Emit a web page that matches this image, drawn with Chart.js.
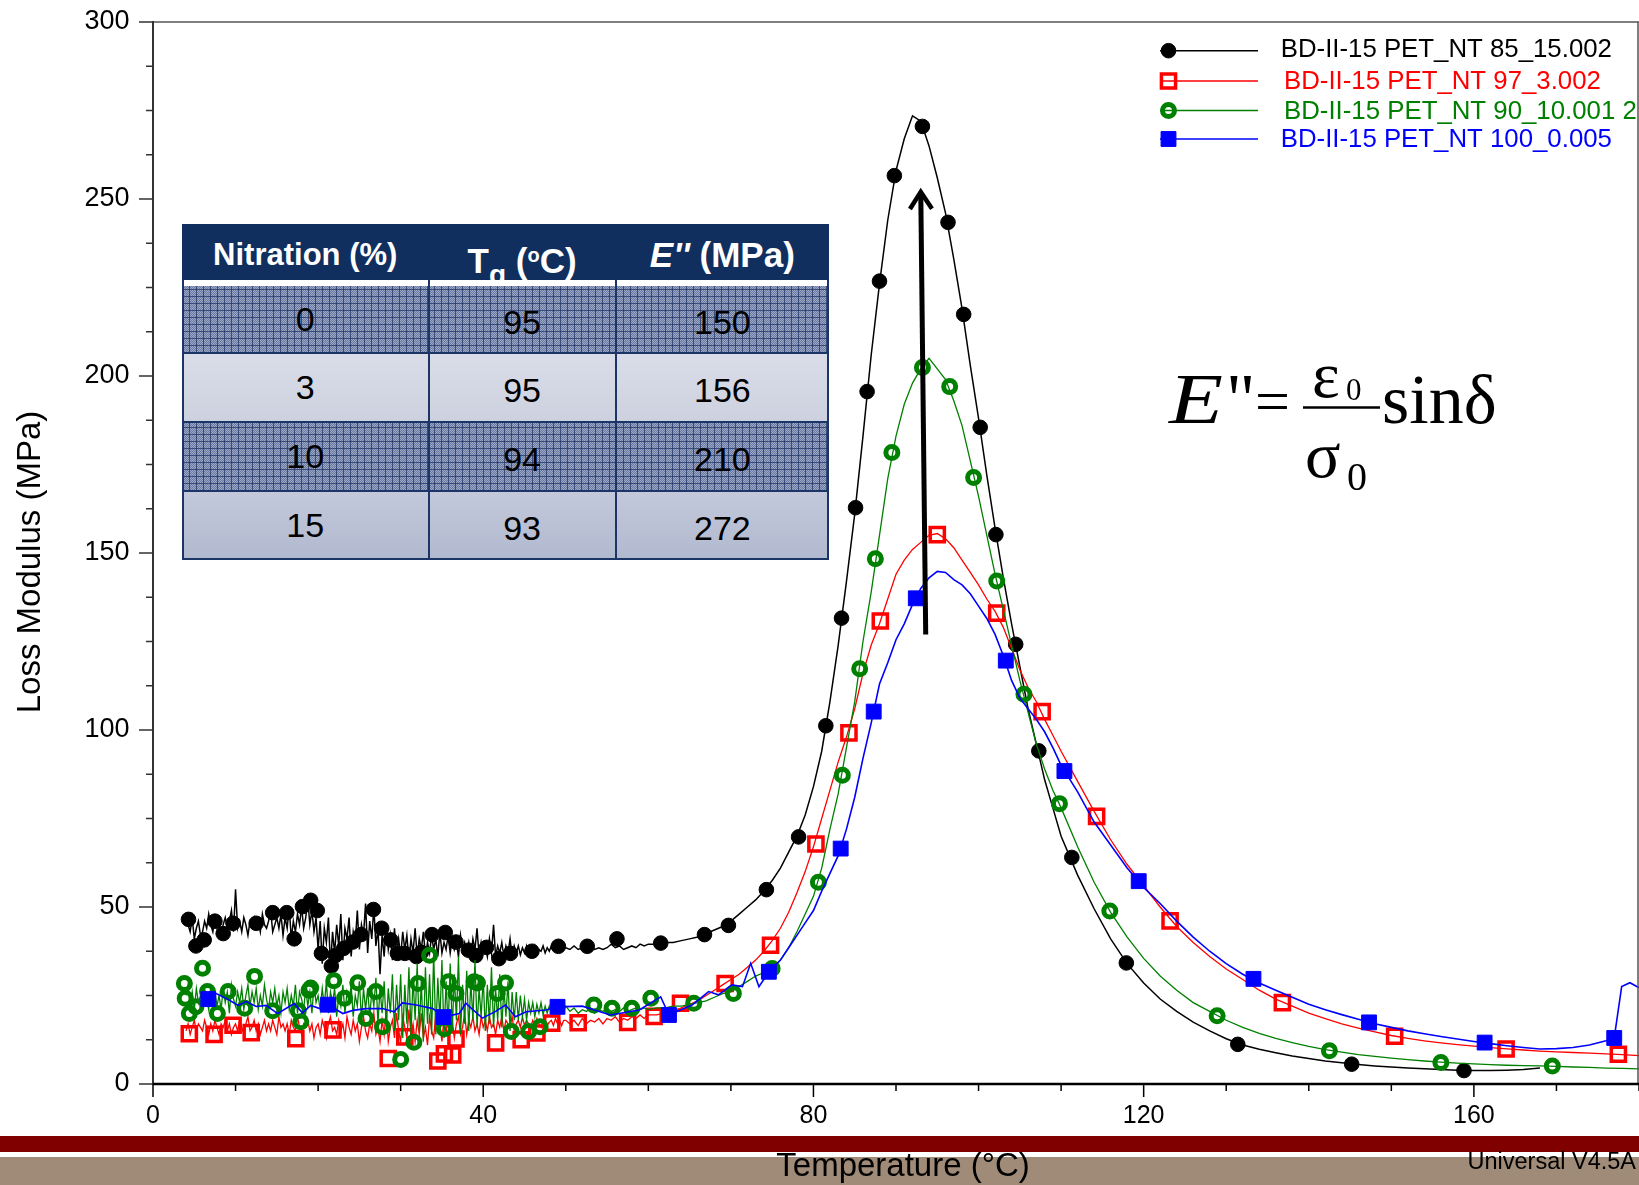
<!DOCTYPE html>
<html>
<head>
<meta charset="utf-8">
<title>Loss Modulus vs Temperature</title>
<script src="https://cdn.jsdelivr.net/npm/chart.js@4.4.1/dist/chart.umd.min.js"></script>
<style>
  html, body { margin: 0; padding: 0; background: #ffffff; }
  #page { position: relative; width: 1639px; height: 1185px; overflow: hidden; background: #ffffff;
          font-family: "Liberation Sans", Arial, sans-serif; }
  .band { position: absolute; left: 0; width: 1639px; }
  #bandRed { top: 1136px; height: 16px; background: #800000; }
  #bandTan { top: 1157px; height: 28px; background: #9f8b77; }
  #chart { position: absolute; left: 0; top: 0; width: 1639px; height: 1185px; }
  #summary { position: absolute; left: 182px; top: 224px; width: 647px; height: 336px; background: #ffffff; }
  #summary .head { position: absolute; left: 0; top: 0; width: 647px; height: 56px; background: #102f5f; overflow: hidden; }
  .hcell { position: absolute; top: 3px; height: 56px; line-height: 56px; text-align: center; color: #ffffff;
           font-weight: bold; font-size: 31px; white-space: nowrap; }
  .hcell.wide { font-size: 35px; }
  .hcell .sub { font-size: 28px; vertical-align: -11px; }
  .hcell .sup { font-size: 20px; vertical-align: 11px; }
  .brow { position: absolute; left: 0; width: 647px; overflow: hidden; }
  .pattern { background-color: #9ba7c3;
    background-image:
      repeating-linear-gradient(0deg, rgba(28,48,98,0.70) 0 1px, transparent 1px 7px),
      repeating-linear-gradient(90deg, rgba(28,48,98,0.70) 0 1px, transparent 1px 7px),
      repeating-conic-gradient(rgba(45,65,120,0.45) 0 25%, transparent 0 50%);
    background-size: auto, auto, 2px 2px; }
  .light2 { background: linear-gradient(#dadde8, #cdd1df); }
  .light4 { background: linear-gradient(#c3c9db, #b1b9cf); }
  .bcell { position: absolute; text-align: center; color: #000000; font-size: 34px; white-space: nowrap; }
  .vline { position: absolute; width: 2px; background: #1a3566; }
  .hline { position: absolute; left: 0; width: 647px; height: 2px; background: #1a3566; }
  #overlay { position: absolute; left: 0; top: 0; }
</style>
</head>
<body>
<div id="page">
  <div id="bandRed" class="band"></div>
  <div id="bandTan" class="band"></div>
  <canvas id="chart" width="1639" height="1185"></canvas>
  <div id="summary"></div>
  <svg id="overlay" width="1639" height="1185" viewBox="0 0 1639 1185">
    <g font-family="'Liberation Serif','Times New Roman',serif" fill="#000000">
      <text x="1169" y="423" font-size="72" font-style="italic" textLength="54" lengthAdjust="spacingAndGlyphs">E</text>
      <text x="1226" y="423" font-size="72">"</text>
      <text x="1255" y="421.5" font-size="62">=</text>
      <text x="1312" y="397" font-size="66">ε</text>
      <text x="1346" y="400" font-size="31">0</text>
      <line x1="1303" y1="407.5" x2="1380" y2="407.5" stroke="#000000" stroke-width="2.7"/>
      <text x="1305" y="476.5" font-size="66">σ</text>
      <text x="1347" y="490" font-size="40">0</text>
      <text x="1382" y="423.3" font-size="70">sinδ</text>
    </g>
    <text x="1636" y="1168.5" font-family="'Liberation Sans',Arial,sans-serif" font-size="23.5" text-anchor="end" fill="#000000">Universal V4.5A</text>
  </svg>
</div>

<script>
// ---------------- data ----------------
// Shared temperature grid (°C) for the three densely sampled traces
const tempGrid = [
  4, 4.25, 4.5, 4.75, 5, 5.25, 5.5, 5.75,
  6, 6.25, 6.5, 6.75, 7, 7.25, 7.5, 7.75,
  8, 8.25, 8.5, 8.75, 9, 9.25, 9.5, 9.75,
  10, 10.25, 10.5, 10.75, 11, 11.25, 11.5, 11.75,
  12, 12.25, 12.5, 12.75, 13, 13.25, 13.5, 13.75,
  14, 14.25, 14.5, 14.75, 15, 15.25, 15.5, 15.75,
  16, 16.25, 16.5, 16.75, 17, 17.25, 17.5, 17.75,
  18, 18.25, 18.5, 18.75, 19, 19.25, 19.5, 19.75,
  20, 20.25, 20.5, 20.75, 21, 21.25, 21.5, 21.75,
  22, 22.25, 22.5, 22.75, 23, 23.25, 23.5, 23.75,
  24, 24.25, 24.5, 24.75, 25, 25.25, 25.5, 25.75,
  26, 26.25, 26.5, 26.75, 27, 27.25, 27.5, 27.75,
  28, 28.25, 28.5, 28.75, 29, 29.25, 29.5, 29.75,
  30, 30.25, 30.5, 30.75, 31, 31.25, 31.5, 31.75,
  32, 32.25, 32.5, 32.75, 33, 33.25, 33.5, 33.75,
  34, 34.25, 34.5, 34.75, 35, 35.25, 35.5, 35.75,
  36, 36.25, 36.5, 36.75, 37, 37.25, 37.5, 37.75,
  38, 38.25, 38.5, 38.75, 39, 39.25, 39.5, 39.75,
  40, 40.25, 40.5, 40.75, 41, 41.25, 41.5, 41.75,
  42, 42.25, 42.5, 42.75, 43, 43.25, 43.5, 43.75,
  44, 44.25, 44.5, 44.75, 45, 45.25, 45.5, 45.75,
  46, 46.25, 46.5, 46.75, 47, 47.25, 47.5, 47.75,
  48, 48.25, 48.5, 48.75, 49, 49.25, 49.5, 49.75,
  50, 50.5, 51, 51.5, 52, 52.5, 53, 53.5, 54, 54.5,
  55, 55.5, 56, 56.5, 57, 57.5, 58, 58.5, 59, 59.5,
  60, 61, 62, 63, 64, 65, 66, 67, 68, 69,
  70, 71, 72, 73, 74, 75, 76, 77, 78, 79,
  80, 81, 82, 83, 84, 85, 86, 87, 88, 89,
  90, 91, 92, 93, 94, 95, 96, 97, 98, 99,
  100, 101, 102, 103, 104, 105, 106, 107, 108, 109,
  110, 112, 114, 116, 118, 120, 122, 124, 126, 128,
  130, 132, 134, 136, 138, 140, 142, 144, 146, 148,
  150, 152, 154, 156, 158, 160, 162, 164, 166, 168,
  170, 172, 174, 176, 178, 180
];

// Loss modulus (MPa), 15 % nitration
const lossBlack = [
  46, 45, 43, 47, 41, 44, 46, 42,
  43, 46, 44, 48, 45, 43, 47, 44,
  46, 42, 45, 47, 44, 46, 49, 43,
  55, 44, 46, 43, 47, 45, 42, 46,
  45, 47, 44, 46, 43, 48, 45, 44,
  46, 49, 43, 45, 47, 44, 48, 42,
  47, 44, 50, 41, 46, 43, 48, 45,
  50, 44, 47, 52, 45, 49, 43, 47,
  38, 46, 34, 44, 40, 47, 33, 43,
  37, 45, 39, 48, 35, 44, 41, 47,
  36, 43, 40, 49, 38, 45, 42, 51,
  37, 46, 41, 50, 39, 44, 31, 42,
  36, 45, 38, 42, 35, 44, 37, 41,
  36, 43, 38, 42, 35, 41, 37, 44,
  36, 41, 38, 43, 36, 40, 37, 42,
  38, 41, 36, 43, 37, 40, 38, 42,
  37, 41, 38, 40, 36, 42, 38, 40,
  37, 40, 36, 41, 38, 44, 36, 40,
  37, 39, 36, 41, 37, 45, 36, 39,
  37, 40, 36, 39, 37, 41, 36, 39,
  37, 39, 36.5, 38.5, 37, 39, 36.5, 38.5,
  37, 39, 36.5, 38, 37.5, 39, 37, 38.5,
  37.5, 39, 38, 38.5, 37.5, 39, 38, 38.5,
  38.5, 38, 39, 38, 38.5, 38, 39, 38, 38.5, 38,
  38.5, 39.5, 38.5, 39, 38, 38.5, 39, 38.5, 39.5, 39,
  39.5, 39.5, 40, 40, 40.5, 41, 41.5, 42.5, 43.5, 44.5,
  46, 48, 50, 52, 54.5, 57.5, 61, 65.5, 70, 76,
  84, 94, 108, 124, 142, 161, 183, 206, 226, 244,
  258, 267, 273.5, 272, 265, 256, 246, 233, 219, 203,
  188, 172, 157, 143, 130, 118, 106, 96, 86, 78,
  70, 59, 49.5, 41, 34, 28.5, 24, 20.5, 17.5, 15,
  12.8, 11, 9.8, 8.8, 7.9, 7.2, 6.5, 6, 5.5, 5.1,
  4.8, 4.5, 4.3, 4.1, 3.9, 3.8, 3.8, 3.9, 4.1, 4.5,
  null, null, null, null, null, null
];

// Loss modulus (MPa), 3 % nitration
const lossRed = [
  15, 17, 14, 16, 18, 15, 17, 16,
  15, 18, 16, 14, 17, 15, 18, 16,
  14, 17, 16, 18, 15, 17, 14, 16,
  17, 15, 18, 16, 14, 17, 19, 15,
  16, 18, 15, 17, 14, 16, 18, 15,
  17, 15, 18, 16, 14, 19, 16, 17,
  15, 17, 14, 18, 16, 15, 19, 16,
  14, 17, 16, 18, 15, 17, 13, 16,
  17, 14, 18, 16, 13, 17, 19, 15,
  16, 14, 18, 15, 17, 13, 19, 16,
  14, 18, 15, 17, 12, 16, 19, 15,
  13, 17, 15, 20, 14, 16, 12, 18,
  14, 21, 12, 16, 18, 13, 20, 15,
  12, 19, 16, 13, 21, 14, 17, 12,
  18, 14, 20, 13, 16, 11, 19, 15,
  13, 20, 15, 17, 12, 19, 14, 21,
  15, 18, 13, 17, 19, 14, 16, 20,
  14, 18, 16, 19, 15, 17, 14, 19,
  16, 18, 15, 19, 16, 17, 14, 18,
  16, 19, 15, 18, 17, 16, 19, 15,
  17, 18, 16, 19, 16.5, 18, 17, 16,
  18, 16.5, 18.5, 17, 16, 18, 17.5, 16.5,
  17.5, 18, 16.5, 18.5, 17, 18, 16.5, 18,
  18, 17, 18, 16.5, 18.5, 17, 18, 17.5, 18.5, 17,
  18.5, 18, 19, 17.5, 18.5, 18, 19, 18.5, 19.5, 18.5,
  19.5, 19.5, 20, 20.5, 21.5, 22.5, 23.5, 25, 26.5, 28,
  29.5, 31, 33, 35, 37.5, 40.5, 44, 48.5, 54, 60,
  67, 75, 83, 91, 98, 106, 116, 124, 130, 137,
  144, 148, 151, 153, 155, 155.5, 154, 151.5, 148, 144.5,
  141, 137, 133.5, 129, 123, 117, 112, 108, 103, 98.5,
  94, 85.5, 77, 69, 62, 56, 50, 44.5, 40, 36,
  32.5, 29.5, 26.5, 24, 22, 20, 18.5, 17, 15.8, 14.7,
  13.7, 12.9, 12.2, 11.6, 11.1, 10.7, 10.3, 9.9, 9.6, 9.3,
  9.1, 8.9, 8.7, 8.5, 8.3, 8.0
];

// Loss modulus (MPa), 10 % nitration
const lossGreen = [
  25, 28, 22, 26, 21, 27, 23, 25,
  22, 27, 24, 21, 28, 23, 26, 22,
  25, 21, 27, 23, 26, 20, 28, 24,
  22, 26, 23, 27, 21, 25, 28, 22,
  26, 23, 27, 21, 25, 22, 28, 24,
  21, 26, 23, 27, 22, 25, 20, 26,
  23, 27, 21, 25, 22, 28, 20, 26,
  24, 21, 27, 22, 26, 20, 28, 23,
  25, 21, 27, 22, 29, 20, 26, 23,
  27, 19, 25, 22, 28, 20, 26, 23,
  28, 19, 25, 22, 29, 18, 27, 21,
  27, 19, 26, 22, 30, 17, 27, 20,
  29, 16, 27, 20, 31, 15, 28, 18,
  31, 13, 28, 17, 33, 14, 30, 18,
  34, 15, 29, 12, 33, 17, 31, 14,
  37, 14, 30, 18, 35, 13, 29, 16,
  34, 15, 31, 18, 36, 14, 28, 17,
  32, 15, 29, 18, 35, 16, 27, 19,
  30, 15, 28, 17, 33, 16, 27, 18,
  31, 16, 27, 19, 29, 15, 26, 18,
  26, 18, 25, 19, 24, 18, 23, 20,
  23, 19, 22.5, 20, 23, 19.5, 22, 20,
  22, 20, 21.5, 20.5, 22, 20, 21.5, 20.5,
  22, 20.5, 21.5, 20, 21, 20.5, 21.5, 20, 21, 20.5,
  21.5, 20.5, 21, 20.5, 21.5, 20.5, 21, 21.5, 21, 21.5,
  21, 21.5, 21.5, 22, 22, 22.5, 23, 23.5, 24.5, 25.5,
  26, 27.5, 29, 30.5, 31.5, 32.5, 35, 38.5, 43, 48,
  53, 61, 72, 82, 95, 108, 125, 139, 155, 171,
  183, 192, 198, 202, 205, 202, 199, 193, 186, 176,
  166, 155, 144, 134, 124, 114, 105, 96, 89, 83,
  78, 67, 57, 48.5, 41.5, 35.5, 30.5, 26.5, 23, 20.5,
  18, 16, 14.3, 12.9, 11.7, 10.6, 9.7, 9, 8.3, 7.8,
  7.3, 6.9, 6.5, 6.2, 5.9, 5.7, 5.5, 5.3, 5.2, 5.1,
  5, 4.8, 4.7, 4.5, 4.4, 4.3
];

// Loss modulus (MPa), 0 % nitration: [temperature °C, E'' MPa]
const traceBlue = [
  [6.7, 24.0], [7.6, 25.6], [9.0, 24.0], [10.3, 22.2], [11.3, 23.3], [12.5, 21.9], [13.7, 22.2], [15.1, 19.9], [17.1, 22.7], [18.1, 20.1],
  [19.1, 22.2], [20.2, 21.3], [21.2, 22.4], [23.0, 19.9], [24.2, 20.8], [25.8, 21.3], [27.8, 21.3], [29.2, 20.4], [30.2, 22.9], [31.9, 22.3],
  [33.9, 21.3], [35.2, 18.9], [37.1, 19.9], [37.9, 22.8], [38.5, 21.5], [39.9, 18.6], [41.5, 20.5], [42.7, 22.3], [43.9, 19.0], [45.2, 20.4],
  [47.6, 20.9], [49.0, 21.8], [52.0, 22.0], [55.4, 19.5], [58.9, 20.9], [61.5, 24.6], [62.5, 19.5], [65.3, 22.3], [67.3, 26.1], [68.5, 25.2],
  [70.1, 28.0], [71.4, 27.5], [72.4, 34.1], [73.4, 27.5], [74.6, 31.7], [76, 35], [77, 38.5], [78, 42], [79, 45.5], [80, 49],
  [81, 54.5], [82, 59.5], [83, 64.5], [84, 72], [85, 81], [86, 92], [87, 102], [88, 113], [89, 119], [90, 125.5],
  [91, 130], [92, 135.5], [93, 140], [94, 143], [95, 144.8], [96, 144.5], [97, 142.5], [98, 141], [99, 138.5], [100, 135],
  [101, 131.5], [102, 127], [103, 121], [104, 114], [105, 109], [106, 106], [107, 103], [108, 99.5], [109, 95], [110, 90],
  [112, 82.5], [114, 74], [116, 67.5], [118, 61], [120, 55.5], [122, 51], [124, 46], [126, 41.5], [128, 37.5], [130, 34],
  [132, 31], [134, 28.5], [136, 26.5], [138, 24.5], [140, 22.5], [142, 21], [144, 19.6], [146, 18.3], [148, 17], [150, 16],
  [152, 15], [154, 14.2], [156, 13.4], [158, 12.7], [160, 12], [162, 11.4], [164, 10.8], [166, 10.3], [168, 9.9], [170, 10],
  [172, 10.3], [174, 11], [176, 12.2], [177, 13], [177.9, 27.5], [178.9, 28.6], [180, 27.2]
];

// Symbol positions along each trace: [temperature °C, E'' MPa]
const markersBlack = [
  [4.3, 46.5], [5.2, 39], [6.2, 40.7], [7.5, 46], [8.5, 42.5], [9.7, 45.4], [12.5, 45.4], [14.5, 48.4], [16.2, 48.4], [17.1, 41],
  [18.1, 50.1], [19.1, 51.9], [19.9, 49], [20.4, 36.9], [21.6, 33.3], [22.1, 36.3], [23.1, 38.3], [24.2, 40.1], [25.2, 42.2], [26.7, 49.3],
  [27.7, 44], [28.8, 40.7], [29.6, 36.9], [30.5, 36.9], [31.9, 36], [32.5, 37.2], [33.8, 42.2], [35.4, 42.8], [36.7, 40.1], [38.2, 37.8],
  [39.1, 36.3], [40.4, 38.6], [41.9, 35.4], [43.3, 36.9], [45.9, 37.5], [49.1, 38.9], [52.6, 38.9], [56.2, 41], [61.5, 39.8], [66.8, 42.2],
  [69.7, 44.8], [74.3, 54.9], [78.2, 69.8], [81.5, 101.2], [83.4, 131.6], [85.1, 162.8], [86.5, 195.6], [88.0, 226.8], [89.8, 256.6], [93.2, 270.5],
  [96.3, 243.4], [98.2, 217.4], [100.2, 185.5], [102.1, 155.2], [104.5, 124.2], [107.3, 94.1], [111.3, 64.0], [117.9, 34.2], [131.4, 11.2], [145.2, 5.6],
  [158.8, 3.8]
];
const markersRed = [
  [4.4, 14.2], [7.4, 14.0], [9.7, 16.6], [11.9, 14.5], [17.3, 12.8], [21.8, 15.3], [28.5, 7.2], [30.5, 13.3], [34.5, 6.5], [35.3, 8.5],
  [36.3, 8.2], [36.7, 12.7], [41.5, 11.6], [44.6, 12.5], [46.5, 14.4], [48.3, 17.2], [51.5, 17.3], [57.5, 17.4], [60.7, 19.1], [63.9, 22.8],
  [69.3, 28.4], [74.8, 39.2], [80.3, 67.8], [84.3, 99.2], [88.1, 130.8], [95.0, 155.2], [102.2, 133.0], [107.7, 105.2], [114.3, 75.6], [123.2, 46.1],
  [136.8, 23.0], [150.4, 13.5], [163.9, 9.9], [177.5, 8.4]
];
const markersGreen = [
  [3.8, 28.4], [3.9, 24.2], [4.4, 19.9], [5.2, 21.8], [6.0, 32.7], [6.6, 26.1], [7.8, 19.9], [9.1, 26.1], [11.1, 21.4], [12.3, 30.4],
  [14.5, 20.7], [17.6, 20.7], [17.9, 17.6], [18.9, 26.5], [19.1, 27.1], [21.9, 29.2], [23.2, 24.2], [24.8, 28.6], [25.8, 18.5], [27.0, 26.1],
  [27.8, 16.2], [30.0, 6.9], [31.6, 11.8], [32.1, 28.4], [33.5, 36.4], [35.3, 15.6], [35.8, 28.9], [36.7, 25.6], [38.9, 28.9], [39.3, 28.5],
  [41.7, 25.6], [42.7, 28.5], [43.4, 14.8], [45.5, 14.8], [46.9, 16.2], [53.4, 22.3], [55.6, 21.4], [58.0, 21.4], [60.3, 24.2], [65.5, 22.8],
  [70.3, 25.6], [75.0, 32.6], [80.6, 57.0], [83.5, 87.2], [85.6, 117.3], [87.5, 148.4], [89.5, 178.4], [93.2, 202.4], [96.5, 197.0], [99.4, 171.3],
  [102.2, 142.1], [105.5, 110.1], [109.8, 79.2], [115.9, 48.9], [128.9, 19.3], [142.5, 9.4], [156.0, 6.1], [169.5, 5.1]
];
const markersBlue = [
  [6.7, 24.0], [21.2, 22.4], [35.2, 18.9], [49.0, 21.8], [62.5, 19.5], [74.6, 31.7], [83.3, 66.5], [87.3, 105.2], [92.4, 137.2], [103.3, 119.6],
  [110.4, 88.4], [119.4, 57.3], [133.3, 29.7], [147.3, 17.4], [161.3, 11.7], [177.0, 13.0]
];

const seriesLabels = [
  'BD-II-15 PET_NT 85_15.002',
  'BD-II-15 PET_NT 97_3.002',
  'BD-II-15 PET_NT 90_10.001 2',
  'BD-II-15 PET_NT 100_0.005'
];

// Summary table
const tableNitration = [0, 3, 10, 15];
const tableTg = [95, 95, 94, 93];
const tableLossPeak = [150, 156, 210, 272];

// Axis tick labels
const xTickLabels = [0, 40, 80, 120, 160];
const yTickLabels = [0, 50, 100, 150, 200, 250, 300];

// ---------------- styles ----------------
const seriesStyles = [
  { color: '#000000', lineWidth: 1.5, pointStyle: 'circle', radius: 7.3,  borderWidth: 1,   fill: '#000000' },
  { color: '#ff0000', lineWidth: 1.3, pointStyle: 'rect',   radius: 10,   borderWidth: 3.5, fill: 'rgba(0,0,0,0)' },
  { color: '#008000', lineWidth: 1.3, pointStyle: 'circle', radius: 6,    borderWidth: 5,   fill: 'rgba(0,0,0,0)' },
  { color: '#0000ff', lineWidth: 1.6, pointStyle: 'rect',   radius: 10.5, borderWidth: 1,   fill: '#0000ff' }
];

// ---------------- build datasets ----------------
function gridPoints(values) {
  return tempGrid.map((t, i) => ({ x: t, y: values[i] }))
                 .filter(p => p.y !== null && p.y !== undefined);
}
function pairPoints(pairs) {
  return pairs.map(([x, y]) => ({ x, y }));
}

const traces = [gridPoints(lossBlack), gridPoints(lossRed), gridPoints(lossGreen), pairPoints(traceBlue)];
const symbols = [markersBlack, markersRed, markersGreen, markersBlue].map(pairPoints);

const datasets = [];
traces.forEach((pts, i) => {
  const s = seriesStyles[i];
  // later series sit on top of earlier ones
  datasets.push({
    label: seriesLabels[i],
    data: pts,
    showLine: true,
    borderColor: s.color,
    borderWidth: s.lineWidth,
    pointRadius: 0,
    tension: 0,
    order: 8 - 2 * i
  });
  datasets.push({
    label: seriesLabels[i] + ' symbols',
    data: symbols[i],
    showLine: false,
    pointStyle: s.pointStyle,
    pointRadius: s.radius,
    pointBorderWidth: s.borderWidth,
    pointBorderColor: s.color,
    pointBackgroundColor: s.fill,
    backgroundColor: s.fill,
    borderColor: s.color,
    order: 7 - 2 * i
  });
});

// ---------------- summary table ----------------
(function buildTable() {
  const box = document.getElementById('summary');
  const colLeft = [0, 246.5, 433.7];
  const colWidth = [246.5, 187.2, 213.3];
  const rowTop = [62, 129, 198, 267];
  const rowHeight = [67, 69, 69, 69];
  const rowClass = ['pattern', 'light2', 'pattern', 'light4'];
  const headers = ['Nitration (%)', 'T<span class="sub">g</span> (<span class="sup">o</span>C)', '<i>E\'\'</i> (MPa)'];
  const headerClass = ['hcell', 'hcell wide', 'hcell wide'];

  const head = document.createElement('div');
  head.className = 'head';
  headers.forEach((h, c) => {
    const d = document.createElement('div');
    d.className = headerClass[c];
    d.style.left = colLeft[c] + 'px';
    d.style.width = colWidth[c] + 'px';
    d.innerHTML = h;
    head.appendChild(d);
  });
  box.appendChild(head);

  const cols = [tableNitration, tableTg, tableLossPeak];
  const colShift = [0, 3, 3];
  rowTop.forEach((top, r) => {
    const row = document.createElement('div');
    row.className = 'brow ' + rowClass[r];
    row.style.top = top + 'px';
    row.style.height = rowHeight[r] + 'px';
    cols.forEach((vals, c) => {
      const d = document.createElement('div');
      d.className = 'bcell';
      d.style.left = colLeft[c] + 'px';
      d.style.width = colWidth[c] + 'px';
      d.style.top = colShift[c] + 'px';
      d.style.height = rowHeight[r] + 'px';
      d.style.lineHeight = rowHeight[r] + 'px';
      d.textContent = String(vals[r]);
      row.appendChild(d);
    });
    box.appendChild(row);
  });

  // grid lines
  [129, 198, 267].forEach(t => {
    const l = document.createElement('div');
    l.className = 'hline';
    l.style.top = (t - 1) + 'px';
    box.appendChild(l);
  });
  const bottom = document.createElement('div');
  bottom.className = 'hline';
  bottom.style.top = '334px';
  box.appendChild(bottom);
  [0, 245.5, 432.7, 645].forEach(x => {
    const v = document.createElement('div');
    v.className = 'vline';
    v.style.left = x + 'px';
    v.style.top = '56px';
    v.style.height = '280px';
    box.appendChild(v);
  });
})();

// ---------------- plugins ----------------
const axisFrame = {
  id: 'axisFrame',
  afterDraw(chart) {
    const { ctx, chartArea: a, scales: { x, y } } = chart;
    ctx.save();
    // top and right frame
    ctx.strokeStyle = '#555555';
    ctx.lineWidth = 1.5;
    ctx.beginPath();
    ctx.moveTo(a.left, a.top);
    ctx.lineTo(a.right, a.top);
    ctx.moveTo(a.right - 1, a.top);
    ctx.lineTo(a.right - 1, a.bottom);
    ctx.stroke();
    // left axis
    ctx.strokeStyle = '#333333';
    ctx.lineWidth = 2;
    ctx.beginPath();
    ctx.moveTo(a.left, a.top - 1);
    ctx.lineTo(a.left, a.bottom + 1);
    ctx.stroke();
    // y ticks
    ctx.lineWidth = 1.5;
    ctx.beginPath();
    y.ticks.forEach(t => {
      const py = y.getPixelForValue(t.value);
      const len = yTickLabels.includes(t.value) ? 14 : 7;
      ctx.moveTo(a.left - len, py);
      ctx.lineTo(a.left, py);
    });
    ctx.stroke();
    // bottom axis and x ticks
    ctx.strokeStyle = '#000000';
    ctx.lineWidth = 2.5;
    ctx.beginPath();
    ctx.moveTo(a.left, a.bottom);
    ctx.lineTo(a.right, a.bottom);
    ctx.stroke();
    ctx.lineWidth = 1.5;
    ctx.beginPath();
    x.ticks.forEach(t => {
      const px = x.getPixelForValue(t.value);
      const len = xTickLabels.includes(t.value) ? 13 : 7;
      ctx.moveTo(px, a.bottom);
      ctx.lineTo(px, a.bottom + len);
    });
    ctx.stroke();
    ctx.restore();
  }
};

const axisTitles = {
  id: 'axisTitles',
  afterDraw(chart) {
    const ctx = chart.ctx;
    ctx.save();
    ctx.fillStyle = '#000000';
    ctx.font = '33px "Liberation Sans", Arial, sans-serif';
    ctx.textAlign = 'center';
    ctx.textBaseline = 'alphabetic';
    ctx.fillText('Temperature (°C)', 903, 1175.5);
    ctx.translate(39.5, 562);
    ctx.rotate(-Math.PI / 2);
    ctx.fillText('Loss Modulus (MPa)', 0, 0);
    ctx.restore();
  }
};

// trend arrow through the peaks
const peakArrow = {
  id: 'peakArrow',
  afterDatasetsDraw(chart) {
    const { ctx, scales: { x, y } } = chart;
    const x0 = x.getPixelForValue(93.6), y0 = y.getPixelForValue(127);
    const x1 = x.getPixelForValue(93.0), y1 = y.getPixelForValue(252);
    const len = Math.hypot(x1 - x0, y1 - y0);
    const ux = (x1 - x0) / len, uy = (y1 - y0) / len;
    const nx = -uy, ny = ux;
    ctx.save();
    ctx.strokeStyle = '#000000';
    ctx.lineWidth = 5;
    ctx.lineCap = 'butt';
    ctx.beginPath();
    ctx.moveTo(x0, y0);
    ctx.lineTo(x1 - ux * 2, y1 - uy * 2);
    ctx.stroke();
    ctx.lineWidth = 4.5;
    ctx.lineJoin = 'miter';
    ctx.beginPath();
    ctx.moveTo(x1 - ux * 17 + nx * 11, y1 - uy * 17 + ny * 11);
    ctx.lineTo(x1, y1);
    ctx.lineTo(x1 - ux * 17 - nx * 11, y1 - uy * 17 - ny * 11);
    ctx.stroke();
    ctx.restore();
  }
};

function drawSymbol(ctx, s, cx, cy) {
  ctx.save();
  ctx.fillStyle = s.fill;
  ctx.strokeStyle = s.color;
  ctx.lineWidth = s.borderWidth;
  ctx.beginPath();
  if (s.pointStyle === 'circle') {
    ctx.arc(cx, cy, s.radius, 0, Math.PI * 2);
  } else {
    const h = s.radius * Math.SQRT1_2;
    ctx.rect(cx - h, cy - h, 2 * h, 2 * h);
  }
  ctx.fill();
  ctx.stroke();
  ctx.restore();
}

const curveLegend = {
  id: 'curveLegend',
  afterDraw(chart) {
    const ctx = chart.ctx;
    const lineY = [50.7, 81, 110.5, 139];
    const textBase = [57.3, 89.3, 119, 146.7];
    const textX = [1280.7, 1284, 1284, 1280.7];
    ctx.save();
    seriesLabels.forEach((label, i) => {
      const s = seriesStyles[i];
      ctx.strokeStyle = s.color;
      ctx.lineWidth = 1.4;
      ctx.beginPath();
      ctx.moveTo(1160, lineY[i]);
      ctx.lineTo(1258, lineY[i]);
      ctx.stroke();
      drawSymbol(ctx, s, 1168.5, lineY[i]);
      ctx.fillStyle = s.color;
      ctx.font = '25.8px "Liberation Sans", Arial, sans-serif';
      ctx.textAlign = 'left';
      ctx.textBaseline = 'alphabetic';
      ctx.fillText(label, textX[i], textBase[i]);
    });
    ctx.restore();
  }
};

// ---------------- chart ----------------
Chart.defaults.font.family = '"Liberation Sans", Arial, sans-serif';
Chart.defaults.color = '#000000';

const xTickValues = [];
for (let v = 0; v <= 180; v += 10) xTickValues.push(v);
const yTickValues = [];
for (let v = 0; v <= 300; v += 12.5) yTickValues.push(v);

new Chart(document.getElementById('chart'), {
  type: 'scatter',
  data: { datasets },
  options: {
    responsive: false,
    animation: false,
    devicePixelRatio: 1,
    events: [],
    layout: { autoPadding: false, padding: { top: 22, right: 0, bottom: 0, left: 0 } },
    plugins: { legend: { display: false }, tooltip: { enabled: false } },
    scales: {
      x: {
        type: 'linear', min: 0, max: 180,
        grid: { display: false, drawTicks: false },
        border: { display: false },
        ticks: {
          autoSkip: false, maxRotation: 0, minRotation: 0, padding: 17,
          color: '#000000', font: { size: 25 },
          callback: v => xTickLabels.includes(v) ? String(v) : ''
        },
        afterBuildTicks: scale => { scale.ticks = xTickValues.map(v => ({ value: v })); },
        afterFit: scale => { scale.height = 101; scale.paddingLeft = 0; scale.paddingRight = 0; }
      },
      y: {
        type: 'linear', min: 0, max: 300,
        grid: { display: false, drawTicks: false },
        border: { display: false },
        ticks: {
          autoSkip: false, padding: 23.5,
          color: '#000000', font: { size: 27 },
          callback: v => yTickLabels.includes(v) ? String(v) : ''
        },
        afterBuildTicks: scale => { scale.ticks = yTickValues.map(v => ({ value: v })); },
        afterFit: scale => { scale.width = 153; scale.paddingTop = 0; scale.paddingBottom = 0; }
      }
    }
  },
  plugins: [peakArrow, axisFrame, axisTitles, curveLegend]
});
</script>
</body>
</html>
